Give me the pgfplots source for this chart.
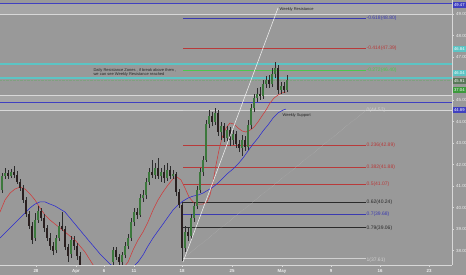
\documentclass[border=0pt]{standalone}
\usepackage{pgfplots}
\pgfplotsset{compat=1.18}
\usepackage{pgfplotstable}
\usepackage{fontspec}
\setmainfont{Liberation Sans}

\definecolor{bg}{HTML}{999999}
\definecolor{band}{HTML}{A6A6A6}
\definecolor{axcol}{HTML}{D8D8D8}
\definecolor{lbl}{HTML}{EEEEEE}
\definecolor{zoneblue}{HTML}{4040C0}
\definecolor{zonecyan}{HTML}{5CC4C4}
\definecolor{fibred}{HTML}{B83A3A}
\definecolor{fibblue}{HTML}{3A3AB0}
\definecolor{fibgreen}{HTML}{4CC84C}
\definecolor{fibdark}{HTML}{2A2A2A}
\definecolor{fiblight}{HTML}{D0D0D0}
\definecolor{fibdiag}{HTML}{BDBDBD}
\definecolor{mared}{HTML}{D03A3A}
\definecolor{mablue}{HTML}{2A2AD0}
\definecolor{upc}{HTML}{3C783C}
\definecolor{dnc}{HTML}{2A2020}
\definecolor{wick}{HTML}{2C2C2C}
\definecolor{pricebox}{HTML}{587858}
\definecolor{priceline}{HTML}{7FA07F}
\definecolor{timebox}{HTML}{3C9A3C}
\definecolor{trend}{HTML}{F0F0F0}

\tikzset{
  fib/.style={anchor=west, inner sep=0.4pt, font=\fontsize{5}{6}\selectfont},
  note/.style={anchor=west, inner sep=0.4pt, text=black!85, font=\fontsize{4}{4.8}\selectfont},
  tag/.style={anchor=west, inner sep=0pt, minimum width=13.5pt, minimum height=6.6pt, text=white, font=\fontsize{4.2}{5}\selectfont},
}

% OHLC candles: x position, open, high, low, close
\pgfplotstableread{
x o h l c
2 40.81 41.60 40.67 41.47
5 41.47 41.84 41.33 41.60
8 41.60 41.74 41.33 41.47
11 41.47 41.79 41.37 41.65
14 41.65 41.93 41.37 41.51
17 41.51 41.70 41.09 41.19
20 41.19 41.33 40.77 40.91
23 40.91 41.05 40.21 40.35
26 40.35 40.49 39.56 39.70
29 39.70 39.84 39.00 39.14
32 39.14 39.33 38.30 38.49
35 38.58 39.74 38.44 39.42
38 39.42 40.07 39.28 39.84
41 39.84 39.98 39.37 39.51
44 39.51 39.70 38.86 39.05
47 39.05 39.19 38.44 38.58
50 38.58 38.81 38.02 38.21
53 38.21 38.39 37.79 37.98
56 38.02 38.72 37.88 38.58
59 38.58 39.33 38.44 39.14
62 39.14 39.79 38.91 39.00
65 39.00 39.14 38.02 38.16
68 38.16 38.30 37.46 37.74
71 37.84 38.67 37.65 38.49
74 38.49 38.67 38.02 38.21
77 38.21 38.35 37.56 37.74
80 37.74 37.93 37.09 37.28
83 37.28 37.30 36.90 36.98
86 36.98 37.10 36.70 36.80
89 36.80 37.00 36.55 36.90
92 36.90 37.05 36.60 36.70
95 36.70 36.85 36.45 36.60
98 36.60 36.80 36.40 36.72
101 36.72 36.95 36.60 36.85
104 36.85 37.05 36.70 36.78
107 36.78 37.10 36.65 37.00
110 37.00 37.30 36.90 37.20
113 37.46 38.16 37.28 38.02
116 38.02 38.16 37.56 37.70
119 37.70 37.84 37.28 37.46
122 37.46 37.93 37.23 37.79
125 37.79 38.39 37.65 38.21
128 38.21 38.77 38.07 38.58
131 38.58 39.51 38.44 39.33
134 39.33 39.98 39.14 39.79
137 39.79 39.98 39.47 39.65
140 39.65 40.63 39.56 40.44
143 40.44 40.81 40.26 40.58
146 40.58 41.37 40.40 41.19
149 41.19 41.84 41.05 41.65
152 41.65 42.21 41.37 41.51
155 41.51 42.07 41.33 41.84
158 41.84 42.30 41.33 41.47
161 41.47 41.84 41.19 41.65
164 41.65 41.98 41.14 41.37
167 41.37 42.07 41.23 41.74
170 41.74 41.93 41.33 41.47
173 41.47 41.74 41.33 41.56
176 41.56 41.65 40.53 40.72
179 40.72 40.86 39.98 40.12
182 40.12 40.26 37.51 38.12
185 38.12 39.14 37.93 38.86
188 38.86 39.05 38.44 38.67
191 38.67 39.70 38.53 39.51
194 39.51 40.26 39.33 40.07
197 40.07 41.00 39.93 40.81
200 40.81 41.84 40.67 41.65
203 41.65 42.40 41.47 42.21
206 42.21 44.07 42.12 43.88
209 43.88 44.53 43.70 44.26
212 44.26 44.44 43.79 43.98
215 43.98 44.63 43.84 44.40
218 44.40 44.53 43.33 43.51
221 43.51 43.98 43.14 43.79
224 43.79 43.93 43.05 43.23
227 43.23 43.79 43.09 43.60
230 43.60 43.74 42.86 43.14
233 43.14 43.60 42.91 43.42
236 43.42 43.56 42.77 42.95
239 42.95 43.14 42.58 42.77
242 42.77 43.37 42.40 43.14
245 43.14 43.33 42.63 42.81
248 42.81 44.07 42.67 43.84
251 43.84 44.81 43.65 44.63
254 44.63 45.28 44.44 45.09
257 45.09 45.56 44.91 45.28
260 45.28 45.60 45.00 45.19
263 45.19 45.93 45.05 45.74
266 45.74 46.12 45.56 45.93
269 45.93 46.16 45.56 45.74
272 45.74 46.49 45.60 46.21
275 46.21 46.77 46.02 46.49
278 46.49 46.63 45.28 45.47
281 45.47 45.84 45.28 45.65
284 45.65 45.84 45.33 45.47
287 45.47 46.16 45.37 45.91
}\candles

% fast moving average
\pgfplotstableread{
x y
0 39.79
5 40.35
10 40.67
15 40.86
20 40.95
25 40.86
30 40.63
35 40.35
40 39.98
45 39.65
50 39.42
55 39.23
60 39.05
65 38.86
70 38.67
75 38.49
80 38.21
85 37.93
90 37.56
95 37.19
100 36.91
110 36.72
118 36.91
124 37.23
128 37.46
133 38.02
138 38.49
143 38.86
148 39.33
153 39.88
158 40.35
163 40.72
168 41.05
173 41.33
177 41.42
181 41.28
185 40.91
189 40.49
193 40.26
198 40.16
203 40.16
207 40.26
210 40.58
213 41.19
216 41.98
219 42.67
222 43.23
226 43.70
230 43.93
234 43.88
238 43.70
242 43.56
246 43.51
250 43.60
254 43.74
258 43.98
262 44.26
266 44.53
270 44.86
274 45.09
278 45.23
282 45.33
286 45.37
}\mafast

% slow moving average
\pgfplotstableread{
x y
0 38.58
5 38.81
10 39.05
15 39.28
20 39.51
25 39.74
30 39.98
35 40.16
40 40.26
45 40.26
50 40.16
55 40.07
60 39.93
65 39.79
70 39.51
75 39.23
80 38.95
85 38.67
90 38.39
95 38.12
100 37.84
105 37.60
110 37.37
115 37.19
120 37.05
127 37.09
133 37.23
138 37.46
143 37.79
148 38.21
153 38.58
158 38.91
163 39.23
168 39.56
173 39.88
178 40.12
183 40.30
188 40.44
193 40.53
198 40.58
203 40.67
208 40.81
213 40.95
218 41.14
223 41.37
228 41.60
233 41.79
238 42.02
243 42.30
248 42.63
253 42.95
258 43.23
263 43.56
268 43.84
273 44.16
278 44.40
283 44.53
286 44.58
}\maslow

\begin{document}
\begin{tikzpicture}
\useasboundingbox (0pt,0pt) rectangle (466pt,-275pt);
\fill[bg] (0pt,0pt) rectangle (466pt,-275pt);
\begin{axis}[
  at={(0pt,0pt)}, anchor=north west,
  scale only axis, width=452pt, height=265pt,
  xmin=0, xmax=452, ymin=37.326, ymax=49.651,
  axis x line=bottom, axis y line=right,
  axis line style={draw=axcol, line width=0.7pt, -},
  clip mode=individual,
  tick align=outside, major tick length=1.6pt,
  tick style={draw=axcol, line width=0.4pt},
  xtick={36,76,104,134,182,232,282,331,380,429},
  xticklabels={28,Apr,6,11,18,25,May,9,16,23},
  ytick={38,39,40,41,42,43,44,45,47,48,49},
  ticklabel style={font=\fontsize{4.4}{5}\selectfont, text=lbl},
  xticklabel style={font=\bfseries\fontsize{4.4}{5}\selectfont, yshift=0.5pt},
  yticklabel style={/pgf/number format/fixed, /pgf/number format/fixed zerofill,
    /pgf/number format/precision=2, /pgf/number format/assume math mode=true, xshift=-1pt},
]

% resistance / support zones
\addplot[draw=none, fill=band] coordinates {(0,49.00) (452,49.00) (452,49.47) (0,49.47)} -- cycle;
\addplot[draw=none, fill=band] coordinates {(0,44.53) (452,44.53) (452,45.23) (0,45.23)} -- cycle;
\addplot[zoneblue, line width=0.9pt] coordinates {(0,49.47) (452,49.47)};
\addplot[axcol, line width=0.6pt] coordinates {(0,49.00) (452,49.00)};
\addplot[zonecyan, line width=1.2pt] coordinates {(0,46.67) (452,46.67)};
\addplot[zonecyan, line width=1.2pt] coordinates {(0,46.02) (452,46.02)};
\addplot[axcol, line width=0.6pt] coordinates {(0,45.23) (452,45.23)};
\addplot[axcol, line width=0.6pt] coordinates {(0,44.53) (452,44.53)};
\addplot[zoneblue, line width=0.9pt] coordinates {(0,44.89) (452,44.89)};
\addplot[priceline, densely dotted, line width=0.4pt] coordinates {(0,45.91) (452,45.91)};

% fibonacci levels
\addplot[fibblue, line width=0.6pt] coordinates {(183,48.80) (366,48.80)};
\addplot[fibred, line width=0.6pt] coordinates {(183,47.39) (366,47.39)};
\addplot[fibgreen, line width=0.6pt] coordinates {(183,46.40) (366,46.40)};
\addplot[fiblight, line width=0.6pt] coordinates {(183,44.52) (366,44.52)};
\addplot[fibred, line width=0.6pt] coordinates {(183,42.89) (366,42.89)};
\addplot[fibred, line width=0.6pt] coordinates {(183,41.88) (366,41.88)};
\addplot[fibred, line width=0.6pt] coordinates {(183,41.07) (366,41.07)};
\addplot[fibdark, line width=0.6pt] coordinates {(183,40.24) (366,40.24)};
\addplot[fibblue, line width=0.6pt] coordinates {(183,39.68) (366,39.68)};
\addplot[fibdark, line width=0.6pt] coordinates {(183,39.06) (366,39.06)};
\addplot[fiblight, line width=0.6pt] coordinates {(183,37.62) (366,37.62)};
\addplot[fibdiag, densely dotted, line width=0.35pt] coordinates {(183,37.62) (366,44.52)};

\node[fib, text=fibblue] at (axis cs:366,48.80) {-0.618(48.80)};
\node[fib, text=fibred] at (axis cs:366,47.39) {-0.414(47.39)};
\node[fib, text=fibgreen] at (axis cs:366,46.40) {-0.272(46.40)};
\node[fib, text=fiblight] at (axis cs:366,44.52) {0(44.52)};
\node[fib, text=fibred] at (axis cs:366,42.89) {0.236(42.89)};
\node[fib, text=fibred] at (axis cs:366,41.88) {0.382(41.88)};
\node[fib, text=fibred] at (axis cs:366,41.07) {0.5(41.07)};
\node[fib, text=fibdark] at (axis cs:366,40.24) {0.62(40.24)};
\node[fib, text=fibblue] at (axis cs:366,39.68) {0.7(39.68)};
\node[fib, text=fibdark] at (axis cs:366,39.06) {0.79(39.06)};
\node[fib, text=fiblight] at (axis cs:366,37.56) {1(37.61)};

% moving averages
\addplot[mared, line width=0.55pt] table[x=x, y=y] {\mafast};
\addplot[mablue, line width=0.55pt] table[x=x, y=y] {\maslow};

% candles: wicks, rising bodies, falling bodies
\addplot[draw=none, mark=none, error bars/.cd, y dir=plus, y explicit, error mark=none,
  error bar style={draw=wick, line width=0.4pt}]
  table[x=x, y=l, y error plus expr=\thisrow{h}-\thisrow{l}] {\candles};
\addplot[draw=none, mark=none, error bars/.cd, y dir=plus, y explicit, error mark=none,
  error bar style={draw=upc, line width=1.5pt}]
  table[x=x, y=o, y error plus expr={max(\thisrow{c}-\thisrow{o},0)}] {\candles};
\addplot[draw=none, mark=none, error bars/.cd, y dir=plus, y explicit, error mark=none,
  error bar style={draw=dnc, line width=1.5pt}]
  table[x=x, y=c, y error plus expr={max(\thisrow{o}-\thisrow{c},0)}] {\candles};

% trend line to the weekly resistance
\addplot[trend, line width=0.55pt] coordinates {(183,37.46) (278,49.28)};

% annotations
\node[note] at (axis cs:279,49.23) {Weekly Resistance};
\node[note] at (axis cs:282,44.26) {Weekly Support};
\node[note, align=left] at (axis cs:93,46.28) {Daily Resistance Zones , if break above them ,\\ we can see Weekly Resistance reached};

% price tags on the scale
\node[tag, fill=zoneblue] at (axis cs:452.4,49.42) {49.47};
\node[tag, fill=zonecyan] at (axis cs:452.4,47.37) {46.84};
\node[tag, fill=zonecyan] at (axis cs:452.4,46.26) {46.04};
\node[tag, fill=pricebox] at (axis cs:452.4,45.88) {45.91};
\node[tag, fill=timebox] at (axis cs:452.4,45.47) {37:04};
\node[tag, fill=zoneblue] at (axis cs:452.4,44.53) {44.89};
\end{axis}
\end{tikzpicture}
\end{document}
